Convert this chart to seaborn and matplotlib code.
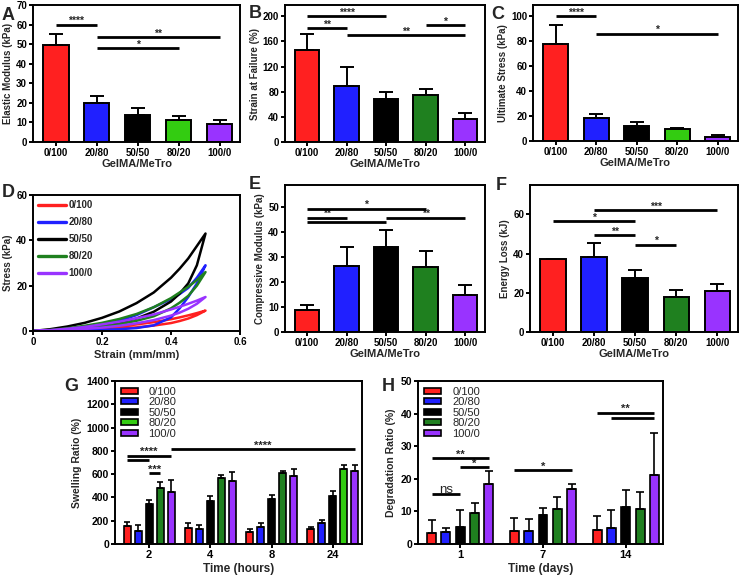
import matplotlib
matplotlib.use("Agg")
import matplotlib.pyplot as plt
from matplotlib.patches import Patch
import seaborn as sns
import pandas as pd
import numpy as np

sns.set_style("ticks")
plt.rcParams['font.family'] = ['Liberation Sans', 'DejaVu Sans']
plt.rcParams['font.weight'] = 'bold'
plt.rcParams['axes.labelweight'] = 'bold'
plt.rcParams['axes.linewidth'] = 1.4
plt.rcParams['xtick.major.width'] = 1.4
plt.rcParams['ytick.major.width'] = 1.4
plt.rcParams['xtick.major.size'] = 2.8
plt.rcParams['ytick.major.size'] = 2.8
plt.rcParams['xtick.color'] = 'black'
plt.rcParams['ytick.color'] = 'black'
plt.rcParams['axes.edgecolor'] = 'black'

# ---- data ----
ratios = ["0/100", "20/80", "50/50", "80/20", "100/0"]

elastic = [49.5, 20.0, 14.0, 11.2, 9.0]
elastic_err = [5.5, 3.5, 3.5, 2.2, 2.0]

strain_fail = [147, 89, 68, 75, 36]
strain_fail_err = [25, 30, 11, 9, 10]

ult_stress = [78, 18.5, 12, 9.5, 3.5]
ult_stress_err = [15, 3.5, 3.5, 1.0, 1.0]

comp_mod = [9.0, 26.5, 34.0, 26.0, 14.8]
comp_mod_err = [2.0, 7.5, 7.0, 6.5, 4.0]

energy = [37.0, 38.5, 27.5, 18.0, 21.0]
energy_err = [0.5, 7.0, 4.0, 3.5, 3.5]

# cyclic compression (D): strain grid and loading / unloading stress
cyc_strain = [0, 0.05, 0.1, 0.15, 0.2, 0.25, 0.3, 0.35, 0.4, 0.425, 0.45, 0.475, 0.5]
cyc_up = {
    "0/100": [0, 0.2, 0.5, 0.9, 1.4, 2.0, 2.9, 3.9, 5.2, 6.0, 6.9, 7.9, 9],
    "20/80": [0, 0.3, 0.8, 1.6, 2.8, 4.5, 7.0, 10.5, 14, 16.3, 19, 23.5, 29],
    "50/50": [0, 0.8, 2.0, 3.6, 5.8, 8.6, 12.3, 17.0, 23.5, 27.5, 32, 37.5, 43],
    "80/20": [0, 0.4, 1.2, 2.3, 3.6, 5.3, 7.5, 10.5, 14.5, 17, 19.5, 22.5, 26],
    "100/0": [0, 0.4, 1.0, 1.8, 2.9, 4.1, 5.6, 7.3, 9.5, 10.7, 12, 13.4, 15],
}
cyc_down = {
    "0/100": [0, 0.1, 0.2, 0.4, 0.7, 1.1, 1.6, 2.4, 3.5, 4.4, 5.5, 7.0, 9],
    "20/80": [0, 0.1, 0.2, 0.3, 0.5, 0.8, 1.3, 2.5, 6.0, 10, 15, 21, 29],
    "50/50": [0, 0.2, 0.6, 1.2, 2.2, 3.6, 5.5, 8.5, 13, 16.5, 21, 29, 43],
    "80/20": [0, 0.2, 0.6, 1.2, 2.0, 3.0, 4.5, 6.5, 10, 12.5, 15.5, 20, 26],
    "100/0": [0, 0.2, 0.5, 0.9, 1.5, 2.3, 3.4, 4.8, 6.8, 8.1, 9.8, 12, 15],
}

hours = ["2", "4", "8", "24"]
swelling = {
    "0/100": [155, 135, 105, 125],
    "20/80": [115, 130, 150, 180],
    "50/50": [340, 370, 390, 415],
    "80/20": [480, 565, 610, 645],
    "100/0": [450, 540, 585, 625],
}
swelling_err = {
    "0/100": [30, 45, 25, 25],
    "20/80": [45, 30, 30, 30],
    "50/50": [40, 40, 35, 40],
    "80/20": [50, 25, 15, 35],
    "100/0": [100, 80, 55, 50],
}

days = ["1", "7", "14"]
degradation = {
    "0/100": [3.5, 4.0, 4.4],
    "20/80": [3.8, 4.0, 4.8],
    "50/50": [5.3, 8.8, 11.2],
    "80/20": [9.5, 10.8, 10.8],
    "100/0": [18.5, 17.0, 21.2],
}
degradation_err = {
    "0/100": [4.0, 4.0, 4.2],
    "20/80": [1.2, 3.7, 5.5],
    "50/50": [5.0, 2.3, 5.3],
    "80/20": [3.0, 3.7, 5.3],
    "100/0": [4.0, 1.5, 12.8],
}

RED, BLUE, BLACK, PURPLE = "#FF2020", "#2020FF", "#000000", "#9933FF"
GREEN_LT, GREEN_DK = "#33CC11", "#1F801F"

W, H = 741, 578
fig = plt.figure(figsize=(W / 100, H / 100), dpi=100)


def px_axes(x0, y0, x1, y1):
    return fig.add_axes([x0 / W, 1 - y1 / H, (x1 - x0) / W, (y1 - y0) / H])


def style(ax, size=7):
    for s in ax.spines.values():
        s.set_visible(True)
        s.set_linewidth(1.4)
    ax.tick_params(labelsize=size, pad=1.5)
    for lab in ax.get_xticklabels() + ax.get_yticklabels():
        lab.set_fontweight('bold')


def sig(ax, x1, x2, y, text, fs=7.5, weight='bold', off=0.5):
    ax.plot([x1, x2], [y, y], color='k', lw=2.0, solid_capstyle='butt', zorder=5)
    ax.annotate(text, ((x1 + x2) / 2, y), xytext=(0, off), textcoords='offset points',
                ha='center', va='baseline', fontsize=fs, fontweight=weight)


def bar_panel(ax, vals, errs, colors, ylim, yticks, ylabel):
    df = pd.DataFrame({"ratio": ratios, "val": vals})
    sns.barplot(data=df, x="ratio", y="val", hue="ratio", palette=colors, width=0.62,
                saturation=1, edgecolor="black", linewidth=1.4, errorbar=None,
                legend=False, ax=ax)
    for p, e in zip(ax.patches, errs):
        ax.errorbar(p.get_x() + p.get_width() / 2, p.get_height(), yerr=[[0], [e]],
                    fmt='none', ecolor='k', elinewidth=1.4, capsize=5, capthick=1.4, zorder=1)
    ax.set_xlim(-0.56, 4.5)
    ax.set_ylim(*ylim)
    ax.set_yticks(yticks)
    ax.set_ylabel(ylabel, fontsize=7, labelpad=2)
    ax.set_xlabel("GelMA/MeTro", fontsize=8, labelpad=1)
    style(ax)


cols_lt = [RED, BLUE, BLACK, GREEN_LT, PURPLE]
cols_dk = [RED, BLUE, BLACK, GREEN_DK, PURPLE]

# A
axA = px_axes(33, 5, 240, 142)
bar_panel(axA, elastic, elastic_err, cols_lt, (0, 70), range(0, 71, 10), "Elastic Modulus (kPa)")
sig(axA, 0, 1, 60, "****")
sig(axA, 1, 4, 53.5, "**")
sig(axA, 1, 3, 48, "*")

# B
axB = px_axes(285, 5, 485, 142)
bar_panel(axB, strain_fail, strain_fail_err, cols_dk, (0, 218), range(0, 201, 40), "Strain at Failure (%)")
sig(axB, 0, 2, 200, "****")
sig(axB, 0, 1, 181, "**")
sig(axB, 3, 4, 186, "*")
sig(axB, 1, 4, 169.5, "**")

# C
axC = px_axes(533, 5, 738, 141)
bar_panel(axC, ult_stress, ult_stress_err, cols_lt, (0, 109), range(0, 101, 20), "Ultimate Stress (kPa)")
sig(axC, 0, 1, 100, "****")
sig(axC, 1, 4, 86, "*")

# D
axD = px_axes(33, 195, 240, 331)
d_cols = dict(zip(ratios, cols_dk))
for r in ratios:
    xs = cyc_strain + cyc_strain[::-1]
    ys = cyc_up[r] + cyc_down[r][::-1]
    sns.lineplot(x=xs, y=ys, sort=False, estimator=None, color=d_cols[r], lw=1.8, ax=axD, label=r)
axD.set_xlim(0, 0.6)
axD.set_ylim(0, 60)
axD.set_xticks([0, 0.2, 0.4, 0.6])
axD.set_xticklabels(["0", "0.2", "0.4", "0.6"])
axD.set_yticks([0, 20, 40, 60])
axD.set_xlabel("Strain (mm/mm)", fontsize=8, labelpad=2)
axD.set_ylabel("Stress (kPa)", fontsize=7, labelpad=2)
legD = axD.legend(loc='upper left', frameon=False, fontsize=7, handlelength=2.8,
                  labelspacing=0.72, borderaxespad=0.15, handletextpad=0.3)
for t in legD.get_texts():
    t.set_fontweight('bold')
for l in legD.get_lines():
    l.set_linewidth(2.4)
style(axD)

# E
axE = px_axes(285, 185, 485, 332)
bar_panel(axE, comp_mod, comp_mod_err, cols_dk, (0, 59), range(0, 51, 10), "Compressive Modulus (kPa)")
sig(axE, 0, 3, 49.5, "*")
sig(axE, 0, 1, 45.8, "**")
sig(axE, 0, 2, 44.0, "")
sig(axE, 2, 4, 45.8, "**")

# F
axF = px_axes(530, 185, 738, 332)
bar_panel(axF, energy, energy_err, cols_dk, (0, 75), range(0, 61, 20), "Energy Loss (kJ)")
sig(axF, 1, 4, 62.2, "***")
sig(axF, 0, 2, 56.6, "*")
sig(axF, 1, 2, 49.4, "**")
sig(axF, 2, 3, 44.6, "*")


def group_panel(ax, cats, vals, errs, colors, width, gap, capsize):
    rows = []
    for r in ratios:
        for c, v in zip(cats, vals[r]):
            rows.append({"time": c, "ratio": r, "val": v})
    df = pd.DataFrame(rows)
    sns.barplot(data=df, x="time", y="val", hue="ratio", order=cats, hue_order=ratios,
                palette=colors, saturation=1, width=width, gap=gap, edgecolor="black",
                linewidth=1.2, errorbar=None, legend=False, ax=ax)
    pos = {}
    for i, p in enumerate(ax.patches):
        k, j = divmod(i, len(cats))
        xc = p.get_x() + p.get_width() / 2
        pos[(k, j)] = xc
        ax.errorbar(xc, p.get_height(), yerr=[[0], [errs[ratios[k]][j]]], fmt='none',
                    ecolor='k', elinewidth=1.2, capsize=capsize, capthick=1.2, zorder=1)
    return pos


# G
axG = px_axes(115, 381, 362, 544)
posG = group_panel(axG, hours, swelling, swelling_err, cols_dk, 0.9, 0.36, 2.5)
axG.patches[3 * len(hours) + 3].set_facecolor(GREEN_LT)
axG.set_xlim(-0.56, 3.48)
axG.set_ylim(0, 1400)
axG.set_yticks(range(0, 1401, 200))
axG.set_xlabel("Time (hours)", fontsize=8.5, labelpad=2)
axG.set_ylabel("Swelling Ratio (%)", fontsize=7.5, labelpad=3)
sig(axG, posG[(0, 0)], posG[(4, 0)], 760, "****", fs=8)
sig(axG, posG[(0, 0)], posG[(2, 0)], 722, "")
sig(axG, posG[(2, 0)], posG[(3, 0)], 609, "***", fs=8)
sig(axG, posG[(4, 0)], posG[(4, 3)], 815, "****", fs=8)
handles = [Patch(facecolor=c, edgecolor='k', linewidth=1.2, label=r)
           for r, c in zip(ratios, cols_lt)]
legG = axG.legend(handles=handles, loc='upper left', frameon=False, fontsize=8,
                  handlelength=1.6, handleheight=0.45, labelspacing=0.05,
                  borderaxespad=0.1, handletextpad=0.9)
for t in legG.get_texts():
    t.set_fontweight('normal')
style(axG, 7.5)
axG.tick_params(axis='x', labelsize=8)

# H
axH = px_axes(418, 381, 663, 544)
posH = group_panel(axH, days, degradation, degradation_err, cols_dk, 0.865, 0.375, 2.7)
axH.set_xlim(-0.51, 2.45)
axH.set_ylim(0, 50)
axH.set_yticks(range(0, 51, 10))
axH.set_xlabel("Time (days)", fontsize=8.5, labelpad=2)
axH.set_ylabel("Degradation Ratio (%)", fontsize=7.5, labelpad=3)
sig(axH, posH[(0, 0)], posH[(2, 0)], 15.3, "ns", fs=9.5, weight='normal')
sig(axH, posH[(0, 0)], posH[(4, 0)], 26.3, "**", fs=8)
sig(axH, posH[(2, 0)], posH[(4, 0)], 23.5, "*", fs=8)
sig(axH, posH[(0, 1)], posH[(4, 1)], 22.6, "*", fs=8)
sig(axH, posH[(0, 2)], posH[(4, 2)], 40.3, "**", fs=8)
sig(axH, posH[(1, 2)], posH[(4, 2)], 38.8, "")
handles = [Patch(facecolor=c, edgecolor='k', linewidth=1.2, label=r)
           for r, c in zip(ratios, cols_dk)]
legH = axH.legend(handles=handles, loc='upper left', frameon=False, fontsize=8,
                  handlelength=1.6, handleheight=0.45, labelspacing=0.05,
                  borderaxespad=0.1, handletextpad=1.0)
for t in legH.get_texts():
    t.set_fontweight('normal')
style(axH, 7.5)
axH.tick_params(axis='x', labelsize=8)

# panel letters
for letter, x, y in [("A", 2, 20), ("B", 249, 18), ("C", 491, 19), ("D", 2, 197),
                     ("E", 249, 189), ("F", 496, 190), ("G", 64, 391), ("H", 382, 391)]:
    fig.text(x / W, 1 - y / H, letter, fontsize=13, fontweight='bold', ha='left', va='baseline')

fig.savefig("out.png", dpi=100)
